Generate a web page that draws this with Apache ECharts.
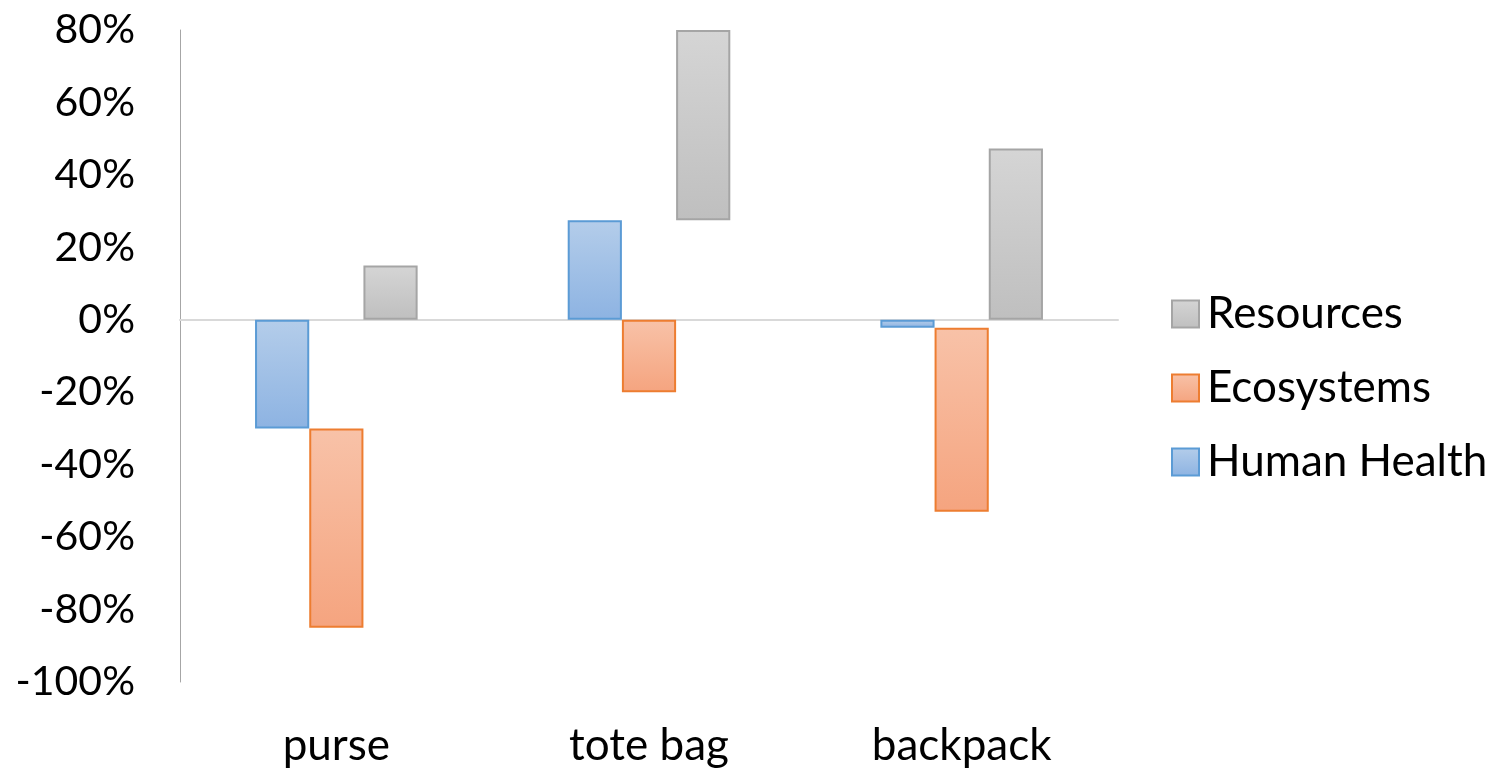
<!DOCTYPE html>
<html>
<head>
<meta charset="utf-8">
<script src="https://cdn.jsdelivr.net/npm/echarts@6/dist/echarts.min.js"></script>
<style>
  html, body { margin: 0; padding: 0; background: #fff; }
  #chart { width: 1497px; height: 768px; }
</style>
</head>
<body>
<div id="chart"></div>
<script>
// floating bars: each bar runs from its start to its end (in %)
var categories = ['purse', 'tote bag', 'backpack'];
var healthStart = [0, 0, 0];
var healthEnd = [-30, 27.5, -2.2];
var ecoStart = [-30, 0, -2.2];
var ecoEnd = [-85, -20, -53];
var resStart = [0, 27.5, 0];
var resEnd = [15, 80, 47.3];
var legendOrder = ['Resources', 'Ecosystems', 'Human Health'];

var FONT = 'Lato';

function diff(a, b){
    return a.map(function(v, i){ return b[i] - v; });
}

function grad(top, bottom){
    return new echarts.graphic.LinearGradient(0, 0, 0, 1, [
        {offset: 0, color: top},
        {offset: 1, color: bottom}
    ]);
}

function baseSeries(stack, data){
    return {
        type: 'bar',
        stack: stack,
        silent: true,
        itemStyle: {color: 'transparent', borderWidth: 0},
        data: data
    };
}

function valueSeries(name, stack, data, top, bottom, border){
    return {
        name: name,
        type: 'bar',
        stack: stack,
        barCategoryGap: '48%',
        barGap: '0%',
        itemStyle: {color: grad(top, bottom), borderColor: border, borderWidth: 2},
        data: data
    };
}

var chart = echarts.init(document.getElementById('chart'));

var option = {
    animation: false,
    grid: {left: 180, right: 379, top: 30, bottom: 85},
    legend: {
        orient: 'vertical',
        left: 1166,
        top: 287,
        data: legendOrder,
        icon: 'rect',
        itemWidth: 27,
        itemHeight: 27,
        itemGap: 30,
        textStyle: {fontFamily: FONT, fontSize: 44, lineHeight: 44, color: '#000', padding: [0, 0, 0, 3]}
    },
    xAxis: [
        {
            type: 'category',
            data: categories,
            position: 'bottom',
            axisLine: {show: false, onZero: false},
            axisTick: {show: false},
            axisLabel: {margin: 42, fontFamily: FONT, fontSize: 44, color: '#000'}
        },
        {
            type: 'category',
            data: categories,
            position: 'bottom',
            axisLine: {show: true, onZero: true, lineStyle: {color: '#d9d9d9', width: 2}},
            axisTick: {show: false},
            axisLabel: {show: false}
        }
    ],
    yAxis: {
        type: 'value',
        min: -100,
        max: 80,
        interval: 20,
        axisLine: {show: true, lineStyle: {color: '#a6a6a6', width: 1}},
        axisTick: {show: false},
        splitLine: {show: false},
        axisLabel: {
            margin: 45,
            formatter: '{value}%',
            fontFamily: FONT,
            fontSize: 41,
            color: '#000'
        }
    },
    series: [
        baseSeries('hh', healthStart),
        valueSeries('Human Health', 'hh', diff(healthStart, healthEnd), '#b4cdea', '#8db3e2', '#5b9bd5'),
        baseSeries('eco', ecoStart),
        valueSeries('Ecosystems', 'eco', diff(ecoStart, ecoEnd), '#f8c2a8', '#f5a47f', '#ed7d31'),
        baseSeries('res', resStart),
        valueSeries('Resources', 'res', diff(resStart, resEnd), '#d5d5d5', '#bfbfbf', '#a5a5a5')
    ]
};

chart.setOption(option);
</script>
</body>
</html>
